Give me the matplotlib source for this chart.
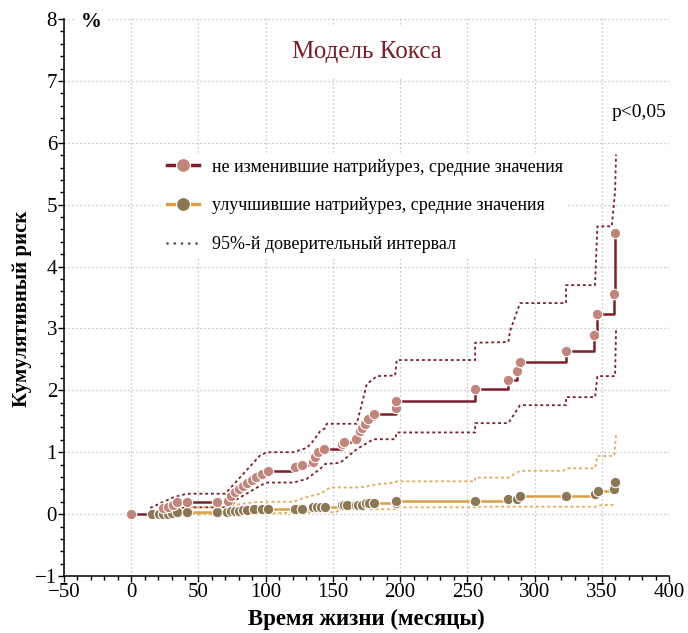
import numpy as np
import matplotlib
matplotlib.use("Agg")
import matplotlib.pyplot as plt
from matplotlib.lines import Line2D
from matplotlib.ticker import MultipleLocator

plt.rcParams["font.family"] = ["Liberation Serif", "DejaVu Serif"]

RED = "#7a1f2b"
RED_PT = "#c0857b"
YEL = "#d9a047"
YEL_CI = "#e3aa55"
YEL_PT = "#8b7753"

# не изменившие натрийурез: event times (months) and cumulative risk (%)
red_t = [0, 23.8, 27.5, 31.2, 34.2, 41.4, 63.7, 72, 74, 77, 80, 83, 86, 90, 93, 97, 102,
         122, 127, 135, 137, 139, 143.5, 156.6, 158.6, 167.3, 170.3, 171.5, 174, 176.4,
         180.7, 197, 197, 255.8, 280.5, 286.8, 289.2, 323.4, 344.5, 346.7, 359.3, 359.9]
red_v = [0, 0.10, 0.12, 0.15, 0.19, 0.19, 0.19, 0.22, 0.30, 0.35, 0.40, 0.45, 0.50, 0.55,
         0.60, 0.65, 0.70, 0.76, 0.80, 0.85, 0.92, 1.00, 1.06, 1.14, 1.17, 1.21, 1.34, 1.39,
         1.45, 1.53, 1.62, 1.72, 1.83, 2.02, 2.17, 2.31, 2.46, 2.63, 2.89, 3.23, 3.55, 4.54]

# улучшившие натрийурез
yel_t = [15.4, 21, 24, 27, 30, 34, 41.4, 63.7, 71, 74, 77, 80, 83, 86.3, 91.5, 97, 102,
         122, 127, 135, 138, 141, 144, 156.6, 158, 160.3, 167.3, 169, 172, 175, 177, 180.7,
         197, 197, 255.8, 280.5, 286.8, 289.2, 323.4, 345, 347, 359.3, 359.9]
yel_v = [0, 0, 0, 0.01, 0.02, 0.04, 0.04, 0.04, 0.04, 0.05, 0.05, 0.05, 0.06, 0.07, 0.08,
         0.08, 0.08, 0.09, 0.09, 0.12, 0.12, 0.12, 0.12, 0.15, 0.15, 0.15, 0.15, 0.15, 0.15,
         0.18, 0.18, 0.18, 0.18, 0.21, 0.22, 0.25, 0.25, 0.30, 0.30, 0.33, 0.37, 0.40, 0.52]

# 95% CI bounds
red_hi_t = [14.1, 31.2, 41.4, 69.9, 95.9, 100.9, 120.7, 130.6, 135.3, 140.5, 144.2, 145.5,
            167.8, 175.2, 182.7, 196.3, 197.5, 255.8, 255.8, 280.5, 281.8, 289.2, 323.4,
            323.4, 345, 346.7, 357.4, 359.9, 360.6]
red_hi_v = [0.10, 0.27, 0.33, 0.33, 0.95, 1.00, 1.00, 1.07, 1.18, 1.34, 1.39, 1.46, 1.46,
            2.10, 2.23, 2.24, 2.49, 2.49, 2.77, 2.78, 2.96, 3.41, 3.41, 3.70, 3.70, 4.65,
            4.65, 5.21, 5.81]
red_lo_t = [16.6, 41.4, 73.6, 78.6, 95.9, 100.9, 120.7, 130.6, 140.5, 144.2, 155.4, 167.8,
            180.1, 196.3, 197.5, 255.8, 255.8, 280.5, 289.2, 323.4, 323.4, 345, 346.7,
            359.9, 360.6]
red_lo_v = [0.02, 0.11, 0.11, 0.24, 0.46, 0.51, 0.51, 0.57, 0.73, 0.81, 0.83, 1.05, 1.21,
            1.21, 1.32, 1.32, 1.47, 1.47, 1.76, 1.76, 1.89, 1.89, 2.23, 2.23, 2.98]
yel_hi_t = [15, 31.2, 41.4, 69, 73.6, 90.7, 100.9, 120.7, 128, 140.5, 148.2, 170.3, 182.7,
            196.3, 197.5, 255.8, 255.8, 280.5, 289.2, 321.4, 323.4, 345, 346.7, 359.3, 360.6]
yel_hi_v = [0.0, 0.08, 0.11, 0.11, 0.14, 0.19, 0.20, 0.20, 0.26, 0.33, 0.43, 0.43, 0.48,
            0.51, 0.53, 0.53, 0.59, 0.59, 0.70, 0.70, 0.74, 0.74, 0.94, 0.94, 1.29]
yel_lo_t = [15, 40, 64, 100, 130, 152.4, 155, 196.3, 197.5, 255.8, 255.8, 345, 350.3, 359.9]
yel_lo_v = [0.0, 0.0, 0.0, 0.01, 0.03, 0.03, 0.08, 0.08, 0.11, 0.11, 0.12, 0.12, 0.15, 0.15]

LBL_RED = "не изменившие натрийурез, средние значения"
LBL_YEL = "улучшившие натрийурез, средние значения"
LBL_CI = "95%-й доверительный интервал"

fig = plt.figure(figsize=(6.88, 6.33), dpi=100)
ax = fig.add_axes([0.093, 0.090, 0.8794, 0.880])

dot = (0, (1.6, 1.6))
ax.plot(red_hi_t, red_hi_v, color=RED, lw=1.3, ls=dot, zorder=2)
ax.plot(red_lo_t, red_lo_v, color=RED, lw=1.3, ls=dot, zorder=2)
ax.plot(yel_hi_t, yel_hi_v, color=YEL_CI, lw=1.3, ls=dot, zorder=2)
ax.plot(yel_lo_t, yel_lo_v, color=YEL_CI, lw=1.3, ls=dot, zorder=2)

ax.step(yel_t, yel_v, where="post", color=YEL, lw=1.8, zorder=3)
ax.step(red_t, red_v, where="post", color=RED, lw=1.8, zorder=3)
ax.plot(yel_t, yel_v, "o", ms=7.5, mfc=YEL_PT, mec="white", mew=0.8, zorder=4)
ax.plot(red_t, red_v, "o", ms=7.5, mfc=RED_PT, mec="white", mew=0.8, zorder=5)

ax.set_xlim(-50, 400)
ax.set_ylim(-1, 8)
ax.xaxis.set_major_locator(MultipleLocator(50))
ax.xaxis.set_minor_locator(MultipleLocator(10))
ax.yaxis.set_major_locator(MultipleLocator(1))
ax.yaxis.set_minor_locator(MultipleLocator(0.2))
ax.tick_params(which="major", direction="out", length=4, width=1, labelsize=15, pad=1)
ax.tick_params(which="minor", direction="out", length=3, width=1)
for s in ["top", "right"]:
    ax.spines[s].set_visible(False)
for s in ["left", "bottom"]:
    ax.spines[s].set_linewidth(1.1)

ax.grid(True, which="major", color="#b5b5b5", lw=0.9, ls=(0, (1, 2.2)), zorder=0)
ax.set_axisbelow(True)

ax.set_xlabel("Время жизни (месяцы)", fontsize=16.5, fontweight="bold")
ax.set_ylabel("Кумулятивный риск", fontsize=15, fontweight="bold")
ax.xaxis.set_label_coords(0.5, -0.058)
ax.yaxis.set_label_coords(-0.053, 0.479)

ax.text(0.5, 0.941, "Модель Кокса", transform=ax.transAxes, ha="center", va="center",
        fontsize=18, color=RED, zorder=6,
        bbox=dict(boxstyle="square,pad=0.6", fc="white", ec="none"))
ax.text(0.995, 0.833, "p<0,05", transform=ax.transAxes, ha="right", va="center",
        fontsize=14, color="black", zorder=6)
ax.text(0.045, 0.995, "%", transform=ax.transAxes, ha="center", va="center",
        fontsize=15, fontweight="bold", zorder=6,
        bbox=dict(boxstyle="square,pad=0.3", fc="white", ec="none"))

handles = [
    Line2D([], [], color=RED, lw=2.5, marker="o", ms=10, mfc=RED_PT, mec="white", mew=0.8),
    Line2D([], [], color=YEL, lw=2.5, marker="o", ms=10, mfc=YEL_PT, mec="white", mew=0.8),
    Line2D([], [], color="#555555", lw=2, ls=(0, (0.01, 2.6)), dash_capstyle="round"),
]
leg = ax.legend(handles, [LBL_RED, LBL_YEL, LBL_CI], loc="upper left",
                bbox_to_anchor=(0.161, 0.759), fontsize=13, frameon=True, handlelength=1.8,
                handletextpad=0.7, labelspacing=1.2, borderpad=0.3, borderaxespad=0)
leg.get_frame().set_facecolor("white")
leg.get_frame().set_edgecolor("none")
leg.get_frame().set_alpha(1)
leg.set_zorder(7)

fig.savefig("out.png", dpi=100)
